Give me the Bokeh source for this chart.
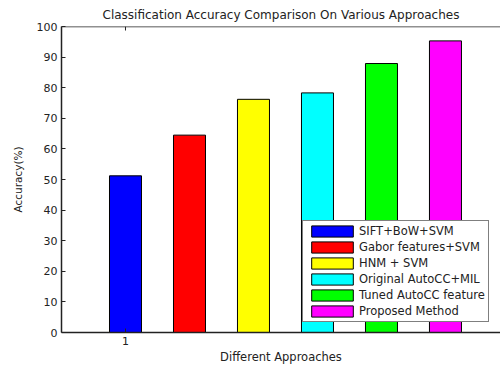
from bokeh.plotting import figure
from bokeh.models import Range1d, FixedTicker, Legend, LegendItem, ColumnDataSource, Span
from bokeh.embed import file_html
from bokeh.resources import INLINE

approaches = ["SIFT+BoW+SVM", "Gabor features+SVM", "HNM + SVM",
              "Original AutoCC+MIL", "Tuned AutoCC feature", "Proposed Method"]
accuracy = [51.2, 64.5, 76.2, 78.3, 87.9, 95.3]
positions = [1, 2, 3, 4, 5, 6]
colors = ["#0000ff", "#ff0000", "#ffff00", "#00ffff", "#00ff00", "#ff00ff"]
y_ticks = list(range(0, 101, 10))
x_ticks = [1]

FONT = "DejaVu Sans"
INK = "#222222"

p = figure(width=500, height=367, output_backend="svg", toolbar_location=None,
           x_range=Range1d(0, 6.86), y_range=Range1d(0, 100),
           min_border_left=61, min_border_right=0, min_border_top=26, min_border_bottom=35,
           title="Classification Accuracy Comparison On Various Approaches")
p.outline_line_color = None
p.background_fill_color = "white"
p.border_fill_color = "white"
p.xgrid.visible = False
p.ygrid.visible = False

p.title.align = "center"
p.title.text_font = FONT
p.title.text_font_size = "12px"
p.title.text_font_style = "normal"
p.title.text_color = INK

src = ColumnDataSource(dict(x=positions, top=accuracy, color=colors, name=approaches))
r = p.vbar(x="x", top="top", width=0.5, fill_color="color", line_color="black",
           line_width=1, source=src)

for ax in (p.xaxis[0], p.yaxis[0]):
    ax.major_tick_in = 4
    ax.major_tick_out = 0
    ax.minor_tick_line_color = None
    ax.axis_line_width = 1.5
    ax.axis_line_color = INK
    ax.major_tick_line_color = INK
    ax.major_label_text_font = FONT
    ax.major_label_text_font_size = "11px"
    ax.major_label_text_color = INK
    ax.axis_label_text_font = FONT
    ax.axis_label_text_font_style = "normal"
    ax.axis_label_text_color = INK

p.yaxis.ticker = FixedTicker(ticks=y_ticks)
p.yaxis.axis_label = "Accuracy(%)"
p.yaxis.axis_label_text_font_size = "10.5px"
p.yaxis.major_label_standoff = 4
p.yaxis.axis_label_standoff = 10

p.xaxis.ticker = FixedTicker(ticks=x_ticks)
p.xaxis.axis_label = "Different Approaches"
p.xaxis.axis_label_text_font_size = "11.5px"
p.xaxis.major_label_standoff = 4
p.xaxis.axis_label_standoff = 2

# top box line and the top tick mark (MATLAB "box on")
p.add_layout(Span(location=y_ticks[-1], dimension="width", line_color=INK, line_width=1.5))
tick_len = (y_ticks[-1] - y_ticks[0]) * 4 / 305.0
p.segment(x0=x_ticks, y0=[y_ticks[-1]] * len(x_ticks), x1=x_ticks,
          y1=[y_ticks[-1] - tick_len] * len(x_ticks), line_color=INK, line_width=1)

items = [LegendItem(label=approaches[i], renderers=[r], index=i) for i in range(len(approaches))]
legend = Legend(items=items, location=(241, 10), glyph_width=52, glyph_height=14,
                spacing=2, padding=3, margin=0, label_standoff=1, label_height=14,
                label_text_font=FONT, label_text_font_size="11.5px", label_text_color=INK,
                border_line_color="black", border_line_width=1, background_fill_alpha=1.0)
p.add_layout(legend)

open("out.html", "w").write(file_html(p, INLINE))
